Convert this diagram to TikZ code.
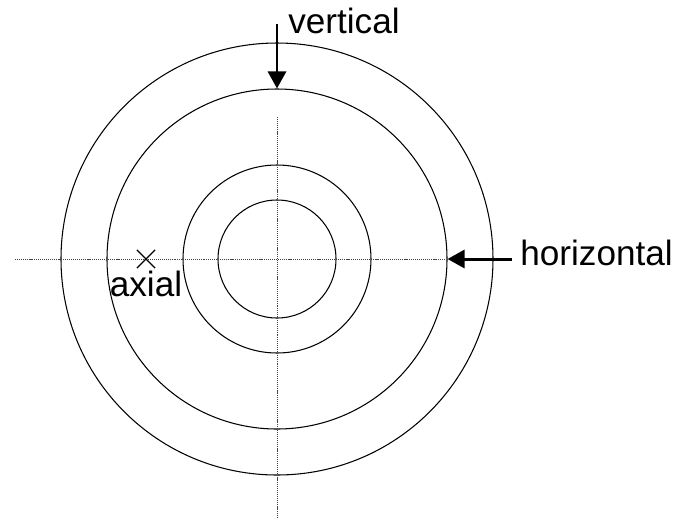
\documentclass[tikz,border=0pt]{standalone}
\usepackage{fontspec}
\setmainfont{Liberation Sans}
\usepackage{tikz}
\usetikzlibrary{positioning, arrows.meta, calc, shapes.misc}
\definecolor{guidegray}{HTML}{444444}
\tikzset{
  ring/.style={circle, draw, line width=0.6pt, inner sep=0pt},
  guide/.style={guidegray, line width=0.5pt, dash pattern=on 0.6pt off 0.5pt},
  probe/.style={line width=1.7pt, -{Triangle[length=0.34cm, width=0.36cm]}},
  lbl/.style={inner sep=0pt, font=\fontsize{20}{24}\selectfont}
}

\begin{document}
\begin{tikzpicture}
    \useasboundingbox (-5.54,-5.20) rectangle (8.12,5.18);
    % rings
    \node[ring, minimum size=8.64cm] (outer) at (0,0) {};
    \node[ring, minimum size=6.80cm] (mid) at (0,0) {};
    \node[ring, minimum size=3.76cm] (inner) at (0,0) {};
    \node[ring, minimum size=2.36cm] (core) at (0,0) {};
    % axes
    \coordinate (hstart) at (-5.24,0);
    \coordinate (vstart) at (0,2.84);
    \coordinate (vend) at (0,-5.20);
    \draw[guide] (hstart) -- (mid.east);
    \draw[guide] (vstart) -- (vend);
    % axial mark
    \node[cross out, draw, line width=0.7pt, minimum size=0.34cm, inner sep=0pt] (axialmark) at (-2.62,0) {};
    \node[lbl, below=0.05cm of axialmark] (axial) {axial};
    % probes
    \coordinate (vtail) at (0,4.70);
    \node[lbl, anchor=base west] (vertical) at (0.22,4.52) {vertical};
    \draw[probe] (vtail) -- (mid.north);
    \coordinate (htail) at (4.70,0);
    \node[lbl, anchor=base west] (horizontal) at (4.86,-0.12) {horizontal};
    \draw[probe] (htail) -- (mid.east);
\end{tikzpicture}
\end{document}
